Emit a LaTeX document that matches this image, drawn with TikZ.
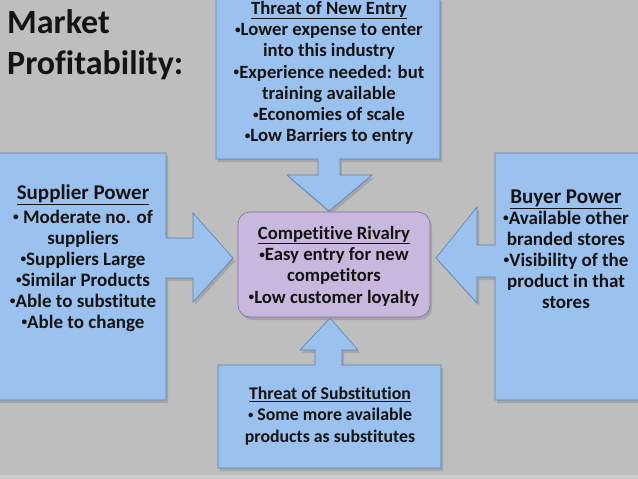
\documentclass[tikz,border=0pt]{standalone}
\usepackage{fontspec}
\setmainfont[Ligatures=NoCommon]{Carlito}
\usetikzlibrary{shadows}
\definecolor{back}{RGB}{190,190,190}
\definecolor{boxblue}{RGB}{155,193,238}
\definecolor{boxedge}{RGB}{95,128,172}
\definecolor{rival}{RGB}{201,184,222}
\definecolor{rivaledge}{RGB}{128,108,158}
\newcommand{\heading}[1]{\underline{#1}}
\newcommand{\bul}{\raisebox{0.13em}{\scalebox{0.6}{•}}}

\begin{document}
\begin{tikzpicture}[
		x=1pt,y=-1pt,
		every node/.style={font=\bfseries\fontsize{18.7}{21.3}\selectfont,align=center,inner sep=0pt,text=black!92},
		B/.style={fill=boxblue,draw=boxedge,line width=0.6pt,drop shadow={shadow xshift=2pt,shadow yshift=-3pt,opacity=0.4}},
		R/.style={fill=rival,draw=rivaledge,line width=0.6pt,rounded corners=12pt,minimum width=192pt,minimum height=105pt,drop shadow={shadow xshift=2pt,shadow yshift=-3pt,opacity=0.4}},
		side/.style={font=\bfseries\fontsize{19}{21}\selectfont},
		big/.style={font=\bfseries\fontsize{21}{25}\selectfont}
	]
	
	%slide background
		\useasboundingbox (0,0) rectangle (638,479);
		\fill[back] (0,0) rectangle (638,479);
		\fill[back!80!white] (0,475) rectangle (638,479);
	
	%the four arrow callouts
		\path[B] (216,-2) -- (440,-2) -- (440,159) -- (340,159) -- (340,175) -- (372,175) -- (329,211)
			-- (287,175) -- (318,175) -- (318,159) -- (216,159) -- cycle;
		\path[B] (-2,153) -- (166,153) -- (166,238) -- (193,238) -- (193,213) -- (233,258)
			-- (193,302) -- (193,278) -- (166,278) -- (166,400) -- (-2,400) -- cycle;
		\path[B] (640,153) -- (495,153) -- (495,245) -- (477,245) -- (477,207) -- (436,258)
			-- (477,303) -- (477,277) -- (495,277) -- (495,400) -- (640,400) -- cycle;
		\path[B] (218,468) -- (441,468) -- (441,365) -- (342,365) -- (342,350) -- (358,350) -- (330,318)
			-- (300,350) -- (315,350) -- (315,365) -- (218,365) -- cycle;
	
	%centre box
		\node[R] (rivalry) at (334,264.5) {};
		\node (rivtext) at (334,266) {\heading{Competitive Rivalry}\\ \bul Easy entry for new\\ competitors\\ \bul Low customer loyalty};
	
	%texts of the callouts
		\node (entry) at (329,73) {\heading{Threat of New Entry}\\ \bul Lower expense to enter\\ into this industry\\ \bul Experience needed: but\\ training available\\ \bul Economies of scale\\ \bul Low Barriers to entry};
		\node[side] (supplier) at (83,258) {{\fontsize{21}{22}\selectfont\heading{Supplier Power}}\\[3pt] \bul\ Moderate no. of\\ suppliers\\ \bul Suppliers Large\\ \bul Similar Products\\ \bul Able to substitute\\ \bul Able to change};
		\node[side] (buyer) at (566,249) {{\fontsize{21}{22}\selectfont\heading{Buyer Power}}\\ \bul Available other\\ branded stores\\ \bul Visibility of the\\ product in that\\ stores};
		\node[font=\bfseries\fontsize{17.8}{21.5}\selectfont] (subst) at (330,416) {\heading{Threat of Substitution}\\ \bul\ Some more available\\ products as substitutes};
	
	%slide title
		\node[anchor=west,align=left,font=\bfseries\fontsize{34}{41}\selectfont] (title) at (7,45) {Market\\ Profitability:};
\end{tikzpicture}
\end{document}
